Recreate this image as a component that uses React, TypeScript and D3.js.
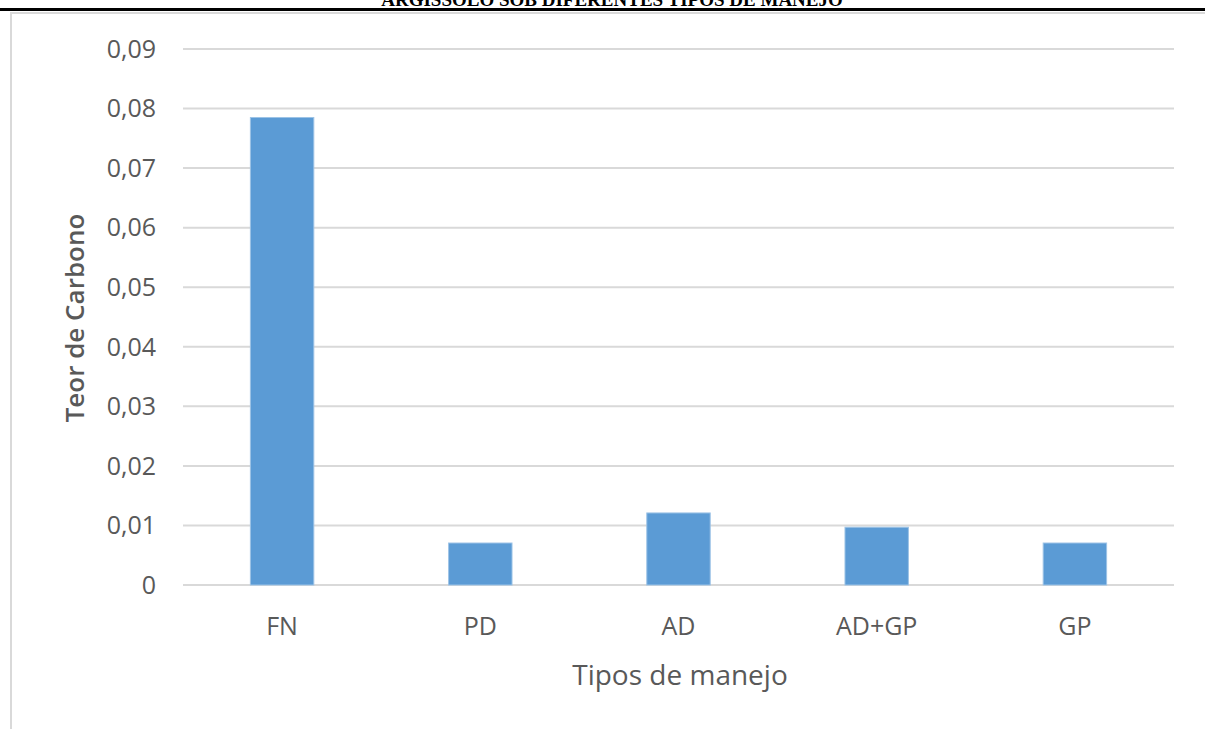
import React from "react";
import * as d3 from "d3";

const categories = ["FN", "PD", "AD", "AD+GP", "GP"];
const values = [0.0785, 0.00705, 0.0121, 0.0097, 0.00705];
const yTicks = [0, 0.01, 0.02, 0.03, 0.04, 0.05, 0.06, 0.07, 0.08, 0.09];
const xTitle = "Tipos de manejo";
const yTitle = "Teor de Carbono";
const pageTitle = "ARGISSOLO SOB DIFERENTES TIPOS DE MANEJO";

const W = 1205;
const H = 729;
const plot = { left: 183, right: 1174, top: 49, bottom: 585 };
const FONT = "'Open Sans', sans-serif";
const TEXT = "#595959";

export default function App() {
  const x = d3
    .scaleBand<string>()
    .domain(categories)
    .range([plot.left, plot.right])
    .paddingInner(0.68)
    .paddingOuter(0.34);
  const y = d3.scaleLinear().domain([0, 0.09]).range([plot.bottom, plot.top]);
  const fmt = (v: number) => (v === 0 ? "0" : d3.format(".2f")(v).replace(".", ","));

  return (
    <div style={{ position: "absolute", left: 0, top: 0, width: W, height: H, background: "#fff" }}>
      <svg width={W} height={H} style={{ display: "block" }}>
        <rect x={0} y={0} width={W} height={H} fill="#fff" />
        <text
          x={612}
          y={6}
          textAnchor="middle"
          fontFamily="'Liberation Serif', serif"
          fontWeight="bold"
          fontSize={19}
          fill="#000"
        >
          {pageTitle}
        </text>
        <line x1={0} x2={W} y1={9.5} y2={9.5} stroke="#000" strokeWidth={3} />
        <line x1={11} x2={W} y1={13} y2={13} stroke="#d9d9d9" strokeWidth={2} />
        <line x1={11} x2={11} y1={12} y2={H} stroke="#d9d9d9" strokeWidth={2} />

        {yTicks.map((t) => (
          <g key={t}>
            <line x1={plot.left} x2={plot.right} y1={y(t)} y2={y(t)} stroke="#d9d9d9" strokeWidth={2} />
            <text
              x={156}
              y={y(t)}
              dy="0.35em"
              textAnchor="end"
              fontFamily={FONT}
              fontSize={25}
              fill={TEXT}
            >
              {fmt(t)}
            </text>
          </g>
        ))}

        {categories.map((c, i) => (
          <g key={c}>
            <rect
              x={x(c)!}
              y={y(values[i])}
              width={x.bandwidth()}
              height={y(0) - y(values[i])}
              fill="#5b9bd5"
              stroke="#9dc3e6"
              strokeWidth={1}
            />
            <text
              x={x(c)! + x.bandwidth() / 2}
              y={626}
              dy="0.35em"
              textAnchor="middle"
              fontFamily={FONT}
              fontSize={25}
              fill={TEXT}
            >
              {c}
            </text>
          </g>
        ))}

        <text
          x={680}
          y={675}
          dy="0.35em"
          textAnchor="middle"
          fontFamily={FONT}
          fontSize={28}
          fill={TEXT}
        >
          {xTitle}
        </text>
        <text
          transform={`translate(75,318) rotate(-90)`}
          dy="0.35em"
          textAnchor="middle"
          fontFamily={FONT}
          fontWeight={600}
          fontSize={26}
          fill={TEXT}
        >
          {yTitle}
        </text>
      </svg>
    </div>
  );
}
